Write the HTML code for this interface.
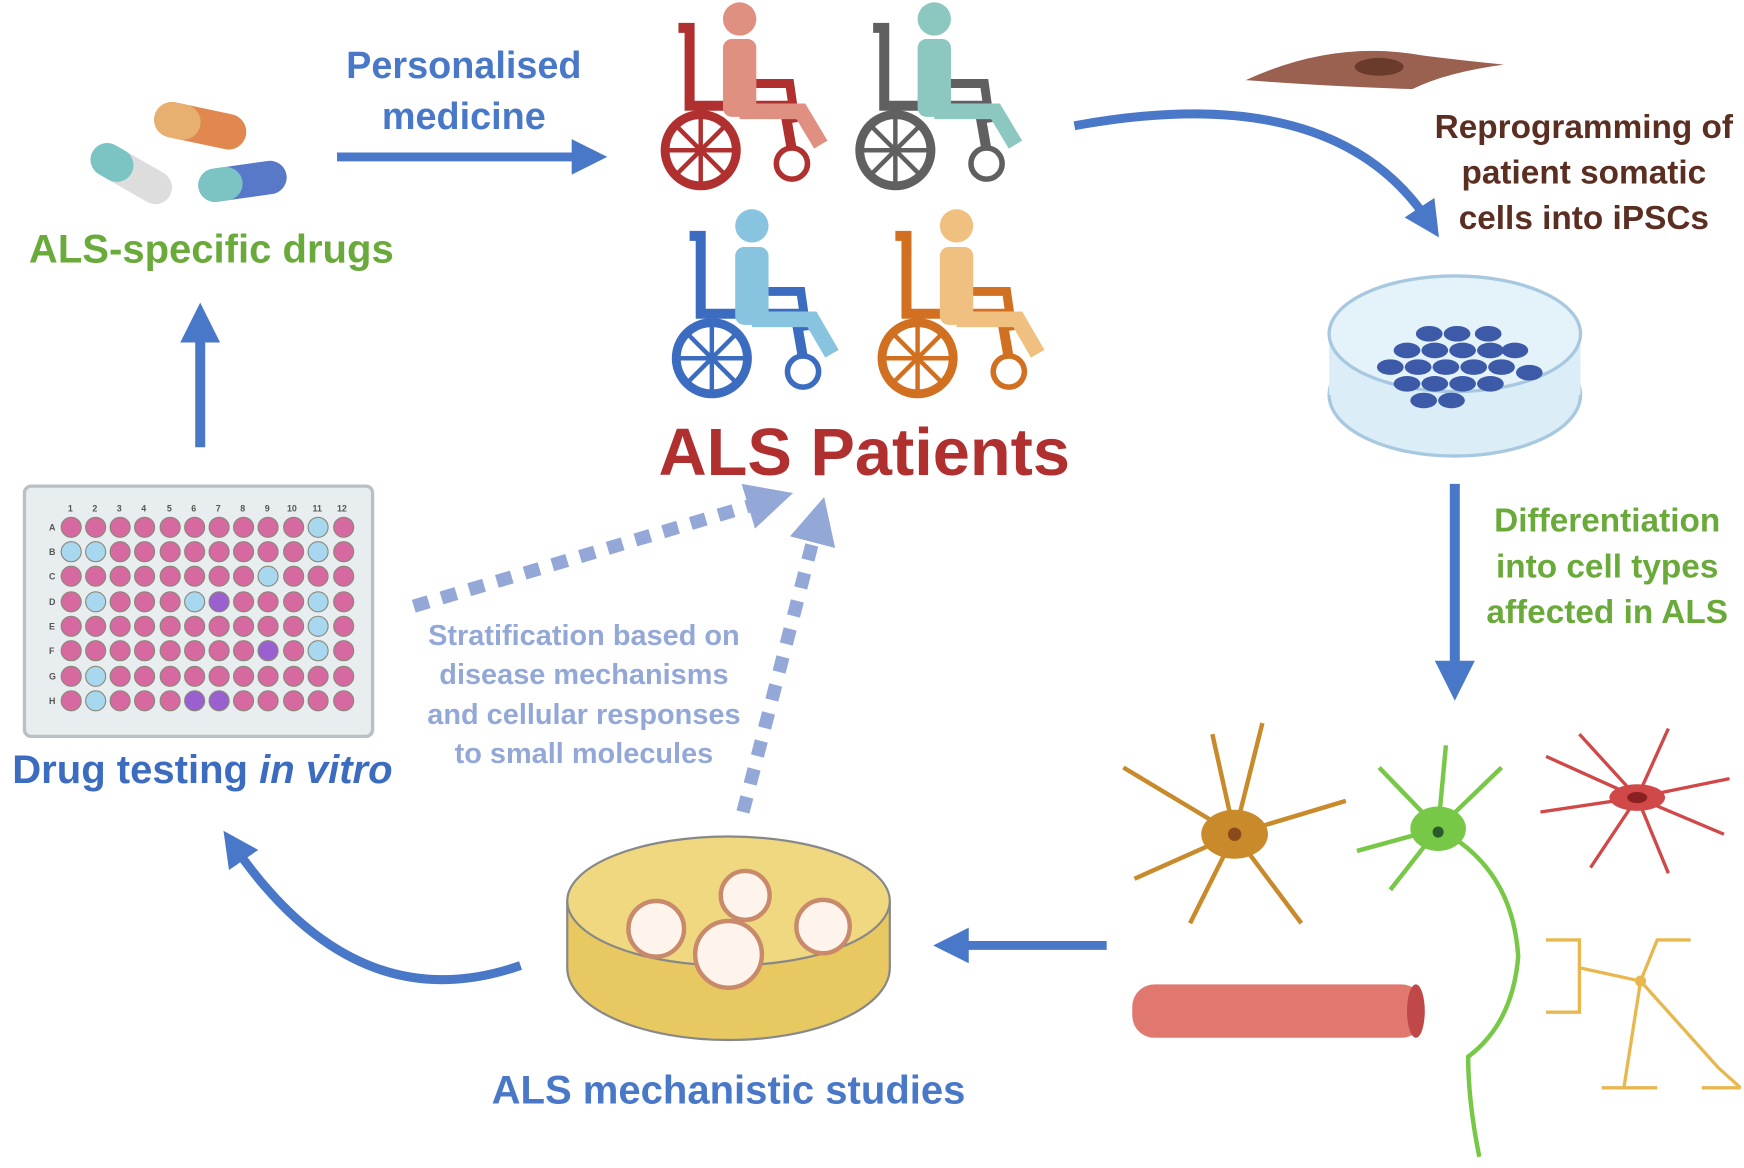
<!DOCTYPE html>
<html><head><meta charset="utf-8"><style>
html,body{margin:0;padding:0;background:#fff;}
svg{display:block;}
text{font-family:"Liberation Sans",sans-serif;font-weight:bold;}
</style></head><body>
<svg width="1744" height="1168" viewBox="0 0 1568 1050" xmlns="http://www.w3.org/2000/svg">
<defs>
<marker id="ah" markerWidth="4" markerHeight="4" refX="2" refY="2" orient="auto" markerUnits="strokeWidth"><path d="M0,0 L4,2 L0,4 z" fill="#4a78c8"/></marker>
<marker id="ahl" markerWidth="3.5" markerHeight="3.5" refX="1.5" refY="1.75" orient="auto" markerUnits="strokeWidth"><path d="M0,0 L3.5,1.75 L0,3.5 z" fill="#94a8d8"/></marker>
<g id="wc">
  <circle cx="0" cy="0" r="32" fill="none" stroke="currentColor" stroke-width="8"/>
  <g stroke="currentColor" stroke-width="4"><line x1="-30" y1="0" x2="30" y2="0"/><line x1="0" y1="-30" x2="0" y2="30"/><line x1="-21" y1="-21" x2="21" y2="21"/><line x1="-21" y1="21" x2="21" y2="-21"/></g>
  <circle cx="82" cy="12" r="14" fill="none" stroke="currentColor" stroke-width="5"/>
  <path d="M-20,-110 L-10,-110 L-10,-40 L75,-40 L82,0" fill="none" stroke="currentColor" stroke-width="9"/>
  <path d="M30,-60 L80,-60 L85,-25" fill="none" stroke="currentColor" stroke-width="8"/>
</g>
</defs>

<!-- capsules -->
<g transform="translate(180,113) rotate(12)"><rect x="-42" y="-16" width="84" height="32" rx="16" fill="#e08850"/><rect x="-42" y="-16" width="42" height="32" rx="16" fill="#e8b070"/></g>
<g transform="translate(118,156) rotate(30)"><rect x="-40" y="-15" width="80" height="30" rx="15" fill="#ddd"/><rect x="-40" y="-15" width="40" height="30" rx="15" fill="#7cc4c4"/></g>
<g transform="translate(218,163) rotate(-8)"><rect x="-40" y="-15" width="80" height="30" rx="15" fill="#5878c8"/><rect x="-40" y="-15" width="40" height="30" rx="15" fill="#7cc4c4"/></g>
<text x="190" y="236" font-size="36" fill="#6aaa3a" text-anchor="middle">ALS-specific drugs</text>
<line x1="180" y1="402" x2="180" y2="290" stroke="#4a78c8" stroke-width="9" marker-end="url(#ah)"/>

<text x="417" y="70" font-size="34" fill="#4a78c8" text-anchor="middle">Personalised</text>
<text x="417" y="116" font-size="34" fill="#4a78c8" text-anchor="middle">medicine</text>
<line x1="303" y1="141" x2="530" y2="141" stroke="#4a78c8" stroke-width="8" marker-end="url(#ah)"/>

<!-- patients -->
<g color="#b03030"><use href="#wc" transform="translate(630,135)"/><circle cx="665" cy="17" r="15" fill="#e09080"/><rect x="650" y="35" width="30" height="70" rx="8" fill="#e09080"/><path d="M665,100 L720,100 L738,130" stroke="#e09080" stroke-width="14" fill="none"/></g>
<g color="#606060"><use href="#wc" transform="translate(805,135)"/><circle cx="840" cy="17" r="15" fill="#8cc8c0"/><rect x="825" y="35" width="30" height="70" rx="8" fill="#8cc8c0"/><path d="M840,100 L895,100 L913,130" stroke="#8cc8c0" stroke-width="14" fill="none"/></g>
<g color="#3c6cc0"><use href="#wc" transform="translate(640,322)"/><circle cx="676" cy="203" r="15" fill="#88c4e0"/><rect x="661" y="222" width="30" height="70" rx="8" fill="#88c4e0"/><path d="M676,287 L730,287 L748,318" stroke="#88c4e0" stroke-width="14" fill="none"/></g>
<g color="#d07020"><use href="#wc" transform="translate(825,322)"/><circle cx="860" cy="203" r="15" fill="#f0c080"/><rect x="845" y="222" width="30" height="70" rx="8" fill="#f0c080"/><path d="M860,287 L915,287 L933,318" stroke="#f0c080" stroke-width="14" fill="none"/></g>
<text x="777" y="427" font-size="60" fill="#b03030" text-anchor="middle">ALS Patients</text>

<!-- reprogramming -->
<path d="M1120,72 Q1200,35 1280,50 Q1320,55 1352,58 Q1300,65 1270,80 Q1200,78 1120,72z" fill="#9a6050"/>
<ellipse cx="1240" cy="60" rx="22" ry="8" fill="#6a3a2a"/>
<path d="M966,113 Q1200,70 1285,200" fill="none" stroke="#4a78c8" stroke-width="8" marker-end="url(#ah)"/>
<text x="1424" y="124" font-size="30" fill="#5a2f22" text-anchor="middle">Reprogramming of</text>
<text x="1424" y="165" font-size="30" fill="#5a2f22" text-anchor="middle">patient somatic</text>
<text x="1424" y="206" font-size="30" fill="#5a2f22" text-anchor="middle">cells into iPSCs</text>
<ellipse cx="1308" cy="355" rx="113" ry="55" fill="#dbeef8" stroke="#a8c8e0" stroke-width="3"/>
<rect x="1195" y="300" width="226" height="55" fill="#dbeef8"/>
<ellipse cx="1308" cy="300" rx="113" ry="52" fill="#e4f2fa" stroke="#a8c8e0" stroke-width="3"/>
<g fill="#3c5aa8">
<ellipse cx="1285" cy="300" rx="12" ry="7"/><ellipse cx="1310" cy="300" rx="12" ry="7"/><ellipse cx="1338" cy="300" rx="12" ry="7"/>
<ellipse cx="1265" cy="315" rx="12" ry="7"/><ellipse cx="1290" cy="315" rx="12" ry="7"/><ellipse cx="1315" cy="315" rx="12" ry="7"/><ellipse cx="1340" cy="315" rx="12" ry="7"/><ellipse cx="1362" cy="315" rx="12" ry="7"/>
<ellipse cx="1250" cy="330" rx="12" ry="7"/><ellipse cx="1275" cy="330" rx="12" ry="7"/><ellipse cx="1300" cy="330" rx="12" ry="7"/><ellipse cx="1325" cy="330" rx="12" ry="7"/><ellipse cx="1350" cy="330" rx="12" ry="7"/><ellipse cx="1375" cy="335" rx="12" ry="7"/>
<ellipse cx="1265" cy="345" rx="12" ry="7"/><ellipse cx="1290" cy="345" rx="12" ry="7"/><ellipse cx="1315" cy="345" rx="12" ry="7"/><ellipse cx="1340" cy="345" rx="12" ry="7"/>
<ellipse cx="1280" cy="360" rx="12" ry="7"/><ellipse cx="1305" cy="360" rx="12" ry="7"/>
</g>
<line x1="1308" y1="435" x2="1308" y2="612" stroke="#4a78c8" stroke-width="9" marker-end="url(#ah)"/>
<text x="1445" y="478" font-size="30" fill="#6aaa3a" text-anchor="middle">Differentiation</text>
<text x="1445" y="519" font-size="30" fill="#6aaa3a" text-anchor="middle">into cell types</text>
<text x="1445" y="560" font-size="30" fill="#6aaa3a" text-anchor="middle">affected in ALS</text>

<!-- cells -->
<g stroke="#c88a2a" stroke-width="4" fill="none"><path d="M1110,750 L1010,690 M1110,750 L1090,660 M1110,750 L1210,720 M1110,750 L1170,830 M1110,750 L1070,830 M1110,750 L1020,790 M1110,750 L1135,650"/></g>
<ellipse cx="1110" cy="750" rx="30" ry="22" fill="#c88a2a"/><circle cx="1110" cy="750" r="6" fill="#8a4a1a"/>
<g stroke="#d04848" stroke-width="3" fill="none"><path d="M1472,717 L1390,680 M1472,717 L1420,660 M1472,717 L1500,655 M1472,717 L1555,700 M1472,717 L1550,750 M1472,717 L1500,785 M1472,717 L1430,780 M1472,717 L1385,730"/></g>
<ellipse cx="1472" cy="717" rx="25" ry="12" fill="#d04848"/><ellipse cx="1472" cy="717" rx="9" ry="5" fill="#8a2020"/>
<g stroke="#78c848" stroke-width="4" fill="none"><path d="M1293,745 L1240,690 M1293,745 L1300,670 M1293,745 L1350,690 M1293,745 L1220,765 M1293,745 L1250,800 M1293,745 Q1360,780 1365,860 Q1360,920 1320,950 Q1320,990 1330,1040"/></g>
<ellipse cx="1293" cy="745" rx="25" ry="20" fill="#78c848"/><circle cx="1293" cy="748" r="5" fill="#2a5a2a"/>
<rect x="1018" y="885" width="262" height="48" rx="20" fill="#e07870"/><ellipse cx="1273" cy="909" rx="8" ry="24" fill="#c04848"/>
<g stroke="#e8b850" stroke-width="3" fill="none"><path d="M1390,845 L1420,845 L1420,910 L1390,910 M1420,870 L1475,882 L1490,845 L1520,845 M1475,882 L1545,960 L1565,978 M1475,882 L1460,978 M1440,978 L1490,978 M1530,978 L1565,978"/></g>
<circle cx="1475" cy="882" r="5" fill="#e8b850"/>

<line x1="995" y1="850" x2="855" y2="850" stroke="#4a78c8" stroke-width="8" marker-end="url(#ah)"/>

<!-- yellow dish -->
<ellipse cx="655" cy="870" rx="145" ry="65" fill="#e8c860" stroke="#888" stroke-width="2"/>
<rect x="510" y="810" width="290" height="60" fill="#e8c860"/>
<line x1="510" y1="810" x2="510" y2="870" stroke="#888" stroke-width="2"/><line x1="800" y1="810" x2="800" y2="870" stroke="#888" stroke-width="2"/>
<ellipse cx="655" cy="810" rx="145" ry="58" fill="#f0d880" stroke="#888" stroke-width="2"/>
<g fill="#fff4ec" stroke="#c88a6a" stroke-width="4"><circle cx="590" cy="835" r="25"/><circle cx="670" cy="805" r="22"/><circle cx="655" cy="858" r="30"/><circle cx="740" cy="833" r="24"/></g>
<text x="655" y="992" font-size="36" fill="#4a78c8" text-anchor="middle">ALS mechanistic studies</text>
<path d="M468,868 Q320,920 210,760" fill="none" stroke="#4a78c8" stroke-width="8" marker-end="url(#ah)"/>

<!-- well plate -->
<rect x="22" y="437" width="313" height="225" rx="6" fill="#e8eef0" stroke="#b8c0c4" stroke-width="3"/>
<g font-size="8" fill="#555" font-weight="normal">
<text x="61" y="460">1</text><text x="83" y="460">2</text><text x="105" y="460">3</text><text x="127" y="460">4</text><text x="150" y="460">5</text><text x="172" y="460">6</text><text x="194" y="460">7</text><text x="216" y="460">8</text><text x="238" y="460">9</text><text x="258" y="460">10</text><text x="281" y="460">11</text><text x="303" y="460">12</text>
</g>
<g id="wells"></g>
<text x="182" y="704" font-size="36" fill="#3c6cc0" text-anchor="middle">Drug testing <tspan font-style="italic">in vitro</tspan></text>

<!-- dotted arrows -->
<path d="M372,545 L690,450" stroke="#94a8d8" stroke-width="12" stroke-dasharray="14,12" fill="none" marker-end="url(#ahl)"/>
<path d="M668,730 L735,470" stroke="#94a8d8" stroke-width="12" stroke-dasharray="14,12" fill="none" marker-end="url(#ahl)"/>
<g font-size="26" fill="#94a8d8" text-anchor="middle"><text x="525" y="580">Stratification based on</text><text x="525" y="615">disease mechanisms</text><text x="525" y="651">and cellular responses</text><text x="525" y="686">to small molecules</text></g>

<!-- wells grid -->
<g stroke="#8a7080" stroke-width="1.2">
<script>/*no*/</script>
</g>
<g id="grid"></g>
<g>
<!-- rows A-H -->
</g>
<g font-size="8" fill="#555" font-weight="normal">
<text x="44" y="477">A</text><text x="44" y="499">B</text><text x="44" y="521">C</text><text x="44" y="544">D</text><text x="44" y="566">E</text><text x="44" y="588">F</text><text x="44" y="611">G</text><text x="44" y="633">H</text>
</g>
<g stroke="#887" stroke-width="1">
<!-- Row A -->
<g fill="#d66aa0"><circle cx="64" cy="474" r="9"/><circle cx="86" cy="474" r="9"/><circle cx="108" cy="474" r="9"/><circle cx="130" cy="474" r="9"/><circle cx="153" cy="474" r="9"/><circle cx="175" cy="474" r="9"/><circle cx="197" cy="474" r="9"/><circle cx="219" cy="474" r="9"/><circle cx="241" cy="474" r="9"/><circle cx="264" cy="474" r="9"/><circle cx="309" cy="474" r="9"/></g><circle cx="286" cy="474" r="9" fill="#a8d8f0"/>
<!-- B -->
<g fill="#d66aa0"><circle cx="108" cy="496" r="9"/><circle cx="130" cy="496" r="9"/><circle cx="153" cy="496" r="9"/><circle cx="175" cy="496" r="9"/><circle cx="197" cy="496" r="9"/><circle cx="219" cy="496" r="9"/><circle cx="241" cy="496" r="9"/><circle cx="264" cy="496" r="9"/><circle cx="309" cy="496" r="9"/></g><g fill="#a8d8f0"><circle cx="64" cy="496" r="9"/><circle cx="86" cy="496" r="9"/><circle cx="286" cy="496" r="9"/></g>
<!-- C -->
<g fill="#d66aa0"><circle cx="64" cy="518" r="9"/><circle cx="86" cy="518" r="9"/><circle cx="108" cy="518" r="9"/><circle cx="130" cy="518" r="9"/><circle cx="153" cy="518" r="9"/><circle cx="175" cy="518" r="9"/><circle cx="197" cy="518" r="9"/><circle cx="219" cy="518" r="9"/><circle cx="264" cy="518" r="9"/><circle cx="286" cy="518" r="9"/><circle cx="309" cy="518" r="9"/></g><circle cx="241" cy="518" r="9" fill="#a8d8f0"/>
<!-- D -->
<g fill="#d66aa0"><circle cx="64" cy="541" r="9"/><circle cx="108" cy="541" r="9"/><circle cx="130" cy="541" r="9"/><circle cx="153" cy="541" r="9"/><circle cx="219" cy="541" r="9"/><circle cx="241" cy="541" r="9"/><circle cx="264" cy="541" r="9"/><circle cx="309" cy="541" r="9"/></g><g fill="#a8d8f0"><circle cx="86" cy="541" r="9"/><circle cx="175" cy="541" r="9"/><circle cx="286" cy="541" r="9"/></g><circle cx="197" cy="541" r="9" fill="#9a60d0"/>
<!-- E -->
<g fill="#d66aa0"><circle cx="64" cy="563" r="9"/><circle cx="86" cy="563" r="9"/><circle cx="108" cy="563" r="9"/><circle cx="130" cy="563" r="9"/><circle cx="153" cy="563" r="9"/><circle cx="175" cy="563" r="9"/><circle cx="197" cy="563" r="9"/><circle cx="219" cy="563" r="9"/><circle cx="241" cy="563" r="9"/><circle cx="264" cy="563" r="9"/><circle cx="309" cy="563" r="9"/></g><circle cx="286" cy="563" r="9" fill="#a8d8f0"/>
<!-- F -->
<g fill="#d66aa0"><circle cx="64" cy="585" r="9"/><circle cx="86" cy="585" r="9"/><circle cx="108" cy="585" r="9"/><circle cx="130" cy="585" r="9"/><circle cx="153" cy="585" r="9"/><circle cx="175" cy="585" r="9"/><circle cx="197" cy="585" r="9"/><circle cx="219" cy="585" r="9"/><circle cx="264" cy="585" r="9"/><circle cx="309" cy="585" r="9"/></g><circle cx="241" cy="585" r="9" fill="#9a60d0"/><circle cx="286" cy="585" r="9" fill="#a8d8f0"/>
<!-- G -->
<g fill="#d66aa0"><circle cx="64" cy="608" r="9"/><circle cx="108" cy="608" r="9"/><circle cx="130" cy="608" r="9"/><circle cx="153" cy="608" r="9"/><circle cx="175" cy="608" r="9"/><circle cx="197" cy="608" r="9"/><circle cx="219" cy="608" r="9"/><circle cx="241" cy="608" r="9"/><circle cx="264" cy="608" r="9"/><circle cx="286" cy="608" r="9"/><circle cx="309" cy="608" r="9"/></g><circle cx="86" cy="608" r="9" fill="#a8d8f0"/>
<!-- H -->
<g fill="#d66aa0"><circle cx="64" cy="630" r="9"/><circle cx="108" cy="630" r="9"/><circle cx="130" cy="630" r="9"/><circle cx="153" cy="630" r="9"/><circle cx="219" cy="630" r="9"/><circle cx="241" cy="630" r="9"/><circle cx="264" cy="630" r="9"/><circle cx="286" cy="630" r="9"/><circle cx="309" cy="630" r="9"/></g><circle cx="86" cy="630" r="9" fill="#a8d8f0"/><g fill="#9a60d0"><circle cx="175" cy="630" r="9"/><circle cx="197" cy="630" r="9"/></g>
</g>
</svg>
</body></html>
